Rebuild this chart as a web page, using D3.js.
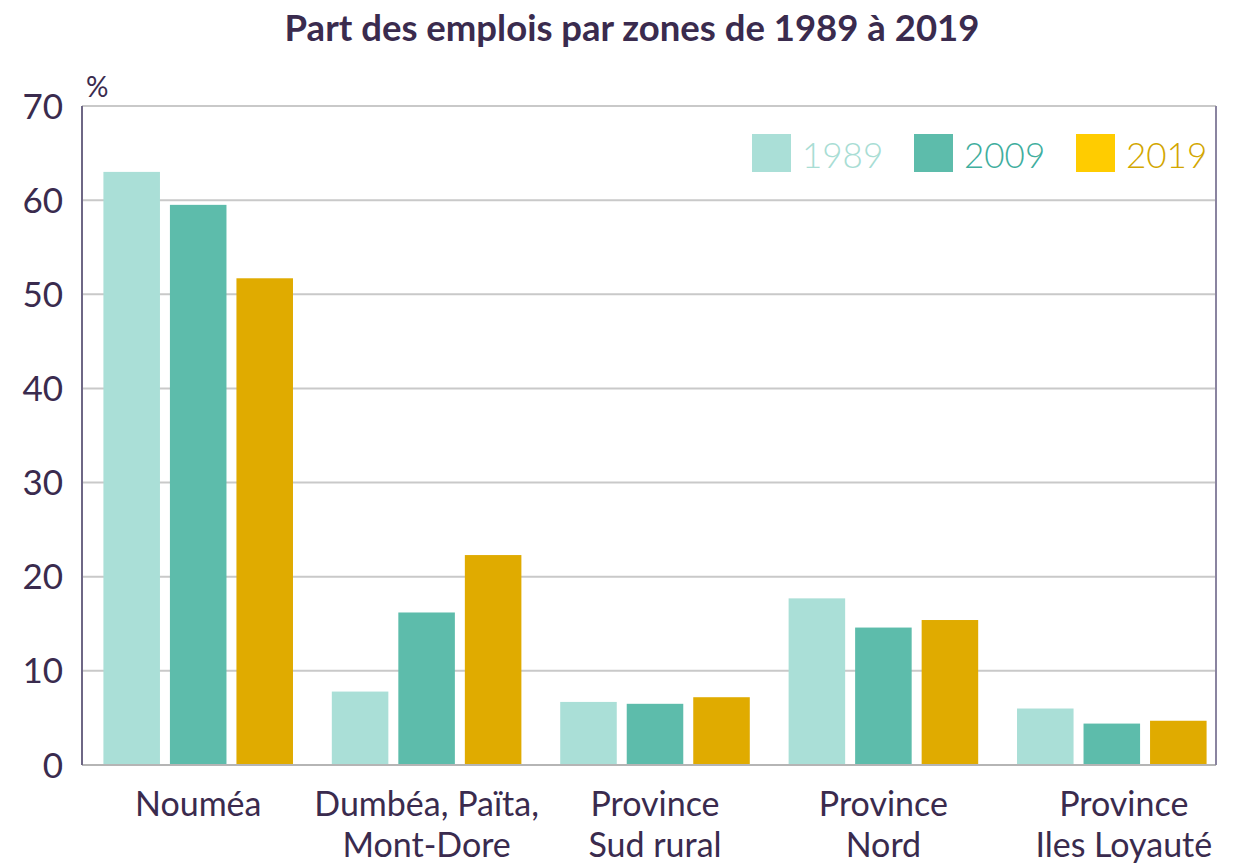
<!DOCTYPE html>
<html>
<head>
<meta charset="utf-8">
<script src="https://cdn.jsdelivr.net/npm/d3@7"></script>
<style>
  body { margin: 0; background: #fff; }
  svg text { font-family: Lato, "Open Sans", sans-serif; }
</style>
</head>
<body>
<div id="chart"></div>
<script>
const categories = [["Nouméa"], ["Dumbéa, Païta,", "Mont-Dore"], ["Province", "Sud rural"], ["Province", "Nord"], ["Province", "Iles Loyauté"]];
const years = ["1989", "2009", "2019"];
const values1989 = [63.0, 7.8, 6.7, 17.7, 6.0];
const values2009 = [59.5, 16.2, 6.5, 14.6, 4.4];
const values2019 = [51.7, 22.3, 7.2, 15.4, 4.7];
const yTicks = [0, 10, 20, 30, 40, 50, 60, 70];

const barColors = ["#aadfd7", "#5dbcab", "#e0ab00"];
const legendColors = ["#aadfd7", "#5dbcab", "#ffcc00"];
const legendText = ["#a8ddd4", "#3fae9e", "#d2a600"];
const ink = "#3a2b4e";

const width = 1235, height = 863;
const plot = { left: 82, right: 1216, top: 106, bottom: 765 };

const svg = d3.select("#chart").append("svg")
    .attr("width", width)
    .attr("height", height);

const catKeys = categories.map(c => c.join(" "));
const series = [values1989, values2009, values2019];
const data = catKeys.map((k, i) => ({ key: k, lines: categories[i], vals: series.map(s => s[i]) }));

const x0 = d3.scaleBand()
    .domain(catKeys)
    .range([84, 1226])
    .paddingInner(0.17)
    .paddingOuter(0.085);

const x1 = d3.scaleBand()
    .domain(years)
    .range([0, x0.bandwidth()])
    .paddingInner(0.15);

const y = d3.scaleLinear()
    .domain([0, 70])
    .range([plot.bottom, plot.top]);

// title
svg.append("text")
    .attr("x", 632)
    .attr("y", 41)
    .attr("text-anchor", "middle")
    .style("font-size", "36.5px")
    .style("font-weight", "bold")
    .style("fill", ink)
    .text("Part des emplois par zones de 1989 à 2019");

// gridlines
svg.append("g")
    .selectAll("line")
    .data(yTicks.filter(t => t > 0))
    .enter()
    .append("line")
    .attr("x1", plot.left)
    .attr("x2", plot.right)
    .attr("y1", d => y(d))
    .attr("y2", d => y(d))
    .attr("stroke", "#c9c9c9")
    .attr("stroke-width", 2);

// bars
const groups = svg.append("g")
    .selectAll("g")
    .data(data)
    .enter()
    .append("g")
    .attr("transform", d => `translate(${x0(d.key)},0)`);

groups.selectAll("rect")
    .data(d => d.vals.map((v, i) => ({ year: years[i], v: v, i: i })))
    .enter()
    .append("rect")
    .attr("x", d => x1(d.year))
    .attr("y", d => y(d.v))
    .attr("width", x1.bandwidth())
    .attr("height", d => y(0) - y(d.v))
    .attr("fill", d => barColors[d.i]);

// bottom axis line
svg.append("line")
    .attr("x1", plot.left).attr("x2", plot.right)
    .attr("y1", y(0)).attr("y2", y(0))
    .attr("stroke", "#b5b5b5")
    .attr("stroke-width", 2);

// left axis + right frame
svg.append("line")
    .attr("x1", plot.left).attr("x2", plot.left)
    .attr("y1", y(70)).attr("y2", y(0))
    .attr("stroke", "#6e6785")
    .attr("stroke-width", 2);
svg.append("line")
    .attr("x1", plot.right).attr("x2", plot.right)
    .attr("y1", y(70)).attr("y2", y(0))
    .attr("stroke", "#8a84a0")
    .attr("stroke-width", 2);

// y tick labels
svg.append("g")
    .selectAll("text")
    .data(yTicks)
    .enter()
    .append("text")
    .attr("x", 63)
    .attr("y", d => y(d))
    .attr("dy", "0.36em")
    .attr("text-anchor", "end")
    .style("font-size", "35px")
    .style("fill", ink)
    .text(d => d);

svg.append("text")
    .attr("x", 86)
    .attr("y", 97)
    .style("font-size", "28px")
    .style("fill", ink)
    .text("%");

// category labels (last one sits a little to the right, as in the source)
const labels = svg.append("g")
    .selectAll("text")
    .data(data)
    .enter()
    .append("text")
    .attr("text-anchor", "middle")
    .attr("transform", (d, i) => `translate(${x0(d.key) + x0.bandwidth() / 2 + (i === data.length - 1 ? 12 : 0)},816)`)
    .style("font-size", "34px")
    .style("fill", ink);

labels.selectAll("tspan")
    .data(d => d.lines)
    .enter()
    .append("tspan")
    .attr("x", 0)
    .attr("y", (d, i) => i * 41)
    .text(d => d);

// legend
const legend = svg.append("g")
    .selectAll("g")
    .data(years)
    .enter()
    .append("g")
    .attr("transform", (d, i) => `translate(${752 + i * 162},134)`);

legend.append("rect")
    .attr("width", 39)
    .attr("height", 38)
    .attr("fill", (d, i) => legendColors[i]);

legend.append("text")
    .attr("x", 50)
    .attr("y", 34)
    .style("font-size", "35px")
    .style("font-weight", 300)
    .style("fill", (d, i) => legendText[i])
    .text(d => d);
</script>
</body>
</html>
